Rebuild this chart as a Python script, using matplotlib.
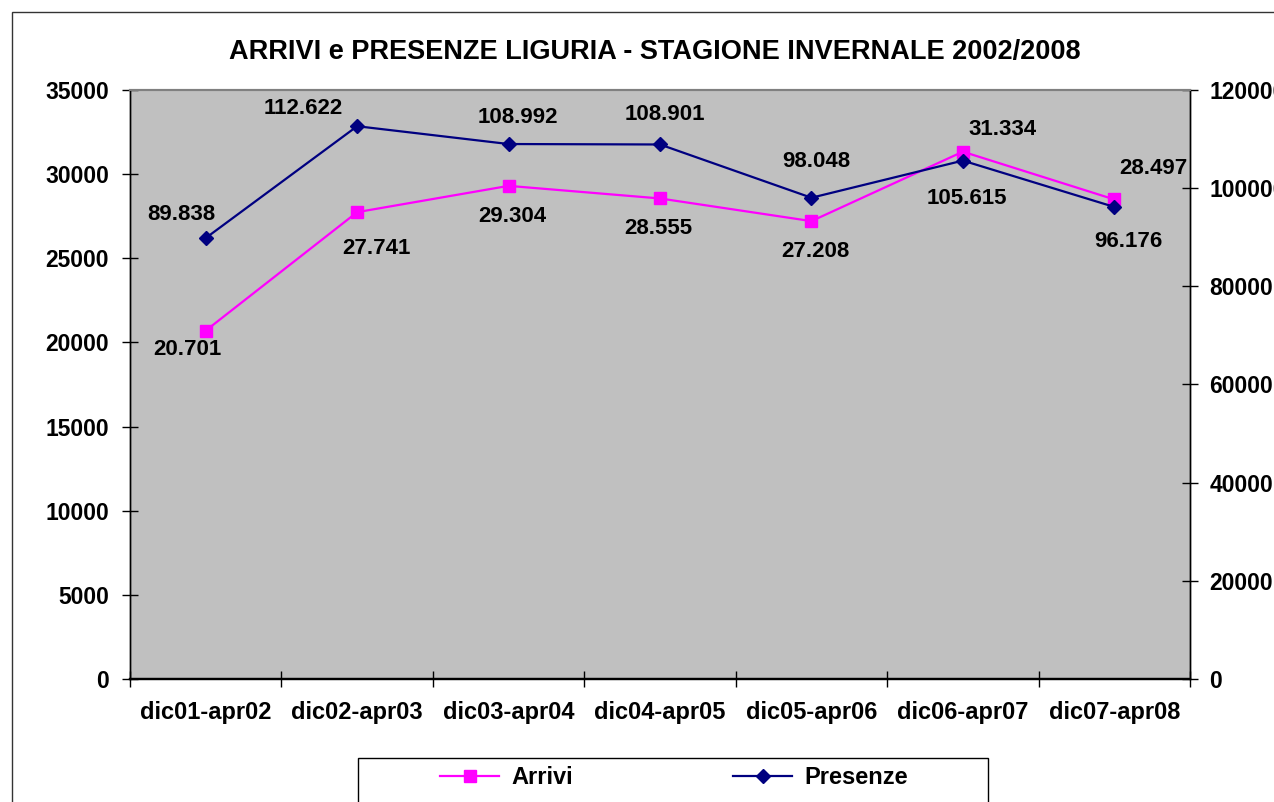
import matplotlib.pyplot as plt
from matplotlib.patches import Rectangle

# -----------------------------
# Data
# -----------------------------
seasons = ["dic01-apr02", "dic02-apr03", "dic03-apr04", "dic04-apr05",
           "dic05-apr06", "dic06-apr07", "dic07-apr08"]
arrivi = [20701, 27741, 29304, 28555, 27208, 31334, 28497]
presenze = [89838, 112622, 108992, 108901, 98048, 105615, 96176]

# label offsets in pixels (dx, dy), hand placed like in the original sheet
arrivi_offsets = [(-18, -19), (19, -36), (4, -31), (-2, -30), (4, -30), (40, 22), (39, 31)]
presenze_offsets = [(-24, 24), (-54, 18), (9, 27), (5, 30), (5, 36), (4, -38), (14, -35)]

plt.rcParams['font.family'] = ['Liberation Sans', 'DejaVu Sans']
plt.rcParams['font.weight'] = 'bold'


def fmt(v):
    return f"{v:,}".replace(",", ".")


fig = plt.figure(figsize=(12.74, 8.02), dpi=100)
ax = fig.add_axes([130 / 1274, 1 - 679 / 802, 1060 / 1274, 589 / 802])
ax2 = ax.twinx()

# outer chart border (goes past the bottom/right edge of the picture)
fig.patches.append(Rectangle((12 / 1274, -0.1), 1.2, 1.1 - 12 / 802,
                             transform=fig.transFigure, fill=False,
                             edgecolor="#333333", linewidth=1.0))

ax.set_facecolor("#C0C0C0")
x = list(range(len(seasons)))

l1, = ax.plot(x, arrivi, color="#FF00FF", marker="s", markersize=8.5,
              linewidth=1.6, label="Arrivi", zorder=3)
l2, = ax2.plot(x, presenze, color="#000080", marker="D", markersize=7.5,
               linewidth=1.6, label="Presenze", zorder=3)

for i, v in enumerate(arrivi):
    ax.annotate(fmt(v), (i, v), xytext=arrivi_offsets[i], textcoords="offset pixels",
                ha="center", va="center", fontsize=16, fontweight="bold")
for i, v in enumerate(presenze):
    ax2.annotate(fmt(v), (i, v), xytext=presenze_offsets[i], textcoords="offset pixels",
                 ha="center", va="center", fontsize=16, fontweight="bold")

# --- axes ---
ax.set_xlim(-0.5, len(seasons) - 0.5)
ax.set_ylim(0, 35000)
ax2.set_ylim(0, 120000)
ax.set_yticks(range(0, 35001, 5000))
ax2.set_yticks(range(0, 120001, 20000))

ax.set_xticks([i - 0.5 for i in range(len(seasons) + 1)])
ax.set_xticklabels([])
ax.set_xticks(x, minor=True)
ax.set_xticklabels(seasons, minor=True)
ax.tick_params(axis="x", which="major", direction="inout", length=12, width=1)
ax.tick_params(axis="x", which="minor", length=0, pad=16, labelsize=17)
ax.tick_params(axis="y", direction="inout", length=12, width=1, pad=9, labelsize=16.5)
ax2.tick_params(axis="y", direction="inout", length=12, width=1, pad=8, labelsize=16.5)

for a in (ax, ax2):
    a.spines["top"].set_color("#808080")
    a.spines["top"].set_linewidth(1.5)
    a.spines["bottom"].set_linewidth(1.6)
    a.spines["left"].set_linewidth(1.0)
    a.spines["right"].set_linewidth(1.0)

fig.text(655 / 1274, 1 - 52 / 802, "ARRIVI e PRESENZE LIGURIA - STAGIONE INVERNALE 2002/2008",
         ha="center", va="center", fontsize=19.5, fontweight="bold")

# --- legend ---
fig.patches.append(Rectangle((358 / 1274, -0.1), 630 / 1274, 0.1 + 44 / 802,
                             transform=fig.transFigure, fill=False,
                             edgecolor="black", linewidth=1.0))
fig.legend(handles=[l1, l2], loc="center", bbox_to_anchor=(674 / 1274, 1 - 778 / 802),
           ncol=2, frameon=False, fontsize=17, handlelength=2.5,
           columnspacing=6.8, handletextpad=0.5)

fig.savefig("out.png", dpi=100)
